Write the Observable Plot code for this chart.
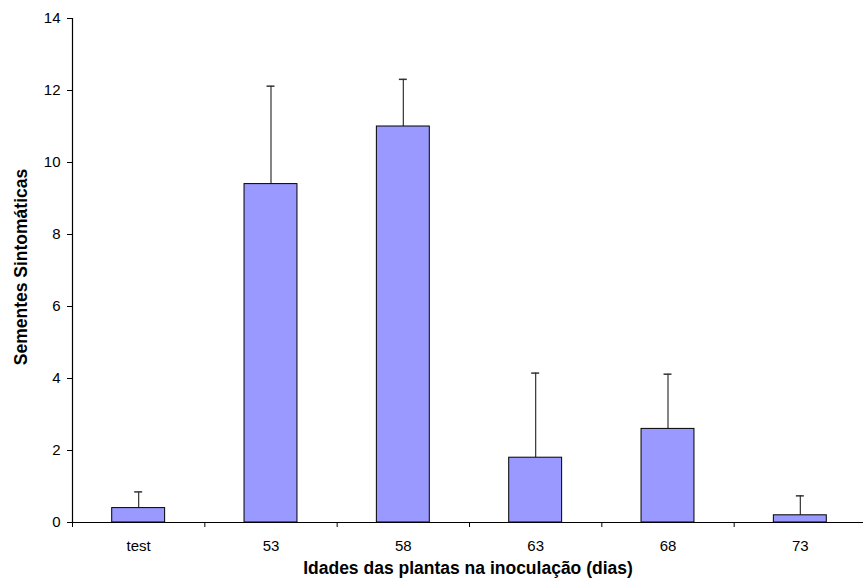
<!DOCTYPE html>
<html>
<head>
<meta charset="utf-8">
<script src="https://cdn.jsdelivr.net/npm/d3@7"></script>
<script src="https://cdn.jsdelivr.net/npm/@observablehq/plot@0.6"></script>
<style>
  html, body { margin: 0; padding: 0; background: #fff; }
</style>
</head>
<body>
<div id="chart"></div>
<script>
const categories = ["test", "53", "58", "63", "68", "73"];
const means = [0.4, 9.4, 11.0, 1.8, 2.6, 0.2];
const upper = [0.85, 12.12, 12.31, 4.15, 4.12, 0.74];
const yTicks = [0, 2, 4, 6, 8, 10, 12, 14];

const data = categories.map((c, i) => ({i, category: c, value: means[i], top: upper[i]}));

const chart = Plot.plot({
  width: 863,
  height: 586,
  marginLeft: 72,
  marginRight: 0,
  marginTop: 18,
  marginBottom: 64,
  style: {fontFamily: "'Liberation Sans', Arial, sans-serif", fontSize: "15px", color: "black", background: "white"},
  x: {type: "linear", domain: [0, categories.length], range: [72, 866]},
  y: {domain: [0, 14]},
  marks: [
    Plot.ruleX(data, {x: d => d.i + 0.5, y1: "value", y2: "top", stroke: "#333", strokeWidth: 1.2}),
    Plot.ruleY(data, {y: "top", x1: d => d.i + 0.47, x2: d => d.i + 0.53, stroke: "#333", strokeWidth: 1.5}),
    Plot.rectY(data, {x1: d => d.i + 0.3, x2: d => d.i + 0.7, y: "value", fill: "#9999ff", stroke: "black", strokeWidth: 1}),
    Plot.ruleY([0], {stroke: "black", strokeWidth: 1.2}),
    Plot.ruleX([0], {y1: 0, y2: 14, stroke: "black", strokeWidth: 1.2}),
    Plot.axisY({ticks: yTicks, tickSize: 5, tickPadding: 7, fontSize: 15, label: null}),
    Plot.axisX({ticks: d3.range(categories.length + 1), tickSize: 5, tickFormat: () => "", label: null}),
    Plot.axisX({ticks: d3.range(categories.length).map(i => i + 0.5), tickFormat: d => categories[Math.floor(d)], tickSize: 0, tickPadding: 18, fontSize: 15, label: null}),
    Plot.text(["Sementes Sintomáticas"], {frameAnchor: "left", rotate: -90, dx: -51, dy: -3.5, fontWeight: "bold", fontSize: 17.5, textAnchor: "middle"}),
    Plot.text(["Idades das plantas na inoculação (dias)"], {frameAnchor: "bottom", dy: 51, fontWeight: "bold", fontSize: 17.5, textAnchor: "middle"})
  ]
});
document.getElementById("chart").appendChild(chart);
</script>
</body>
</html>
